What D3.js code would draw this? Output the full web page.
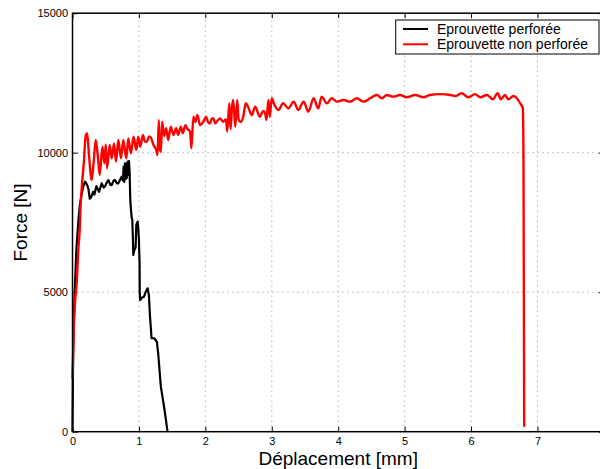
<!DOCTYPE html>
<html><head><meta charset="utf-8">
<script src="https://cdn.jsdelivr.net/npm/d3@7"></script>
<style>
body{margin:0;background:#fff;}
svg{display:block;font-family:"Liberation Sans",Arial,Helvetica,sans-serif;}
</style></head>
<body><svg id="c" width="600" height="469"></svg>
<script>
const xTicks=[0,1,2,3,4,5,6,7];
const yTicks=[0,5000,10000,15000];
const seriesNames=["Eprouvette perforée","Eprouvette non perforée"];
const seriesColors=["#000000","#ff0000"];
// Déplacement [mm], Force [N]
const perforeeX=[0,0.005,0.01,0.03,0.06,0.09,0.11,0.14,0.17,0.19,0.22,0.24,0.26,0.28,0.31,0.33,0.36,0.38,0.40,0.42,0.44,0.47,0.49,0.52,0.54,0.57,0.59,0.62,0.64,0.67,0.69,0.72,0.74,0.76,0.77,0.78,0.79,0.80,0.81,0.82,0.83,0.84,0.85,0.86,0.87,0.88,0.89,0.90,0.91,0.915,0.93,0.95,0.96,0.98,0.99,1.0,1.005,1.01,1.012,1.017,1.04,1.077,1.10,1.13,1.15,1.167,1.18,1.19,1.23,1.27,1.29,1.31,1.33,1.37,1.40,1.43];
const perforeeY=[0,1500,3000,4800,6600,7600,8100,8550,8850,8960,8850,8700,8350,8400,8600,8500,8800,8700,8600,8750,8900,8750,8800,8950,9020,8850,8840,9000,9020,8900,8900,9050,9140,9000,9500,8950,9620,9050,9600,9100,9680,9200,9700,9300,8300,7970,7700,7590,6900,6330,6500,6600,7410,7530,7300,6870,6400,6036,5018,4720,4800,4840,5000,5140,4900,4120,3700,3350,3350,3225,2810,2210,1613,1018,540,0];
const nonPerforeeX=[0,0.01,0.02,0.04,0.063,0.087,0.11,0.12,0.14,0.17,0.20,0.22,0.25,0.29,0.32,0.35,0.38,0.41,0.45,0.48,0.50,0.52,0.56,0.59,0.625,0.655,0.69,0.73,0.765,0.81,0.84,0.88,0.92,0.96,0.99,1.02,1.06,1.09,1.12,1.15,1.17,1.22,1.26,1.28,1.30,1.31,1.33,1.35,1.38,1.41,1.44,1.48,1.52,1.56,1.59,1.63,1.66,1.70,1.73,1.77,1.79,1.82,1.85,1.88,1.92,1.97,2.01,2.04,2.07,2.10,2.12,2.15,2.17,2.22,2.27,2.31,2.33,2.36,2.38,2.40,2.42,2.45,2.48,2.50,2.53,2.57,2.61,2.65,2.70,2.75,2.82,2.87,2.90,2.92,2.95,2.97,3.00,3.03,3.10,3.17,3.25,3.33,3.40,3.48,3.55,3.63,3.70,3.75,3.83,3.90,3.98,4.08,4.18,4.28,4.38,4.48,4.58,4.66,4.73,4.83,4.93,5.03,5.16,5.28,5.38,5.53,5.69,5.76,5.86,5.96,6.06,6.14,6.24,6.33,6.40,6.45,6.51,6.56,6.64,6.69,6.74,6.78,6.79,6.80];
const nonPerforeeY=[1900,2800,3760,4700,5320,6510,7300,8000,8780,9620,10630,10700,9860,9020,9700,10455,9900,9200,10215,9620,10300,9440,10275,9800,10335,9680,10455,9800,10455,9800,10515,9980,10575,10100,10575,10215,10635,10400,10395,10575,10575,10275,10100,9920,11170,10200,10035,11110,10600,10875,10455,10930,10635,10875,10635,10930,10700,10990,10850,10755,10160,11290,11100,11350,10990,11110,11290,11100,11050,11230,11230,11050,11110,11230,11110,11200,10755,11770,10850,11600,11890,10930,11890,11200,11100,11290,11770,11600,11350,11650,11290,11500,11410,11170,11890,11290,11950,11770,11530,11770,11590,11830,11530,11830,11470,11950,11590,12010,11770,11950,11830,11890,11830,11950,11830,11950,12070,11950,12070,12010,12070,11985,12070,11985,12070,12100,12070,12030,12130,11985,12100,11985,12070,11915,12130,11915,12070,11915,12030,11950,11770,11600,9380,180];

const svg=d3.select("#c");
const L=72.5,R=603.9,T=13.2,B=431.7;
const x=d3.scaleLinear().domain([0,8]).range([L,R]);
const y=d3.scaleLinear().domain([0,15000]).range([B,T]);

// grid
const g=svg.append("g");
g.selectAll(".gx").data(xTicks.filter(d=>d>0)).enter().append("line")
 .attr("x1",d=>x(d)).attr("x2",d=>x(d)).attr("y1",B).attr("y2",T)
 .attr("stroke","#8a8a8a").attr("stroke-width",1).attr("stroke-dasharray","1,4");
g.selectAll(".gy").data(yTicks.filter(d=>d>0&&d<15000)).enter().append("line")
 .attr("y1",d=>y(d)).attr("y2",d=>y(d)).attr("x1",L).attr("x2",R)
 .attr("stroke","#8a8a8a").attr("stroke-width",1).attr("stroke-dasharray","1,4");

// axes
const fmt=d3.format("d");
const ax=svg.append("g").attr("transform",`translate(0,${B})`)
 .call(d3.axisBottom(x).tickValues(xTicks).tickSizeInner(-5).tickSizeOuter(0).tickPadding(6).tickFormat(fmt));
const ay=svg.append("g").attr("transform",`translate(${L},0)`)
 .call(d3.axisLeft(y).tickValues(yTicks).tickSizeInner(-5).tickSizeOuter(0).tickPadding(4.5).tickFormat(fmt));
const at=svg.append("g").attr("transform",`translate(0,${T})`)
 .call(d3.axisTop(x).tickValues(xTicks).tickSizeInner(-5).tickSizeOuter(0).tickFormat(""));
const ar=svg.append("g").attr("transform",`translate(${R},0)`)
 .call(d3.axisRight(y).tickValues(yTicks).tickSizeInner(-5).tickSizeOuter(0).tickFormat(""));
[ax,ay,at,ar].forEach(a=>{
  a.select(".domain").remove();
  a.selectAll(".tick line").attr("stroke","#000").attr("stroke-width",1);
  a.selectAll("text").attr("font-size","11px").attr("fill","#000").attr("font-family","Liberation Sans, Arial, sans-serif");
});

// lines
const line=d3.line().x(d=>x(d[0])).y(d=>y(d[1]));
const smooth=d3.line().x(d=>x(d[0])).y(d=>y(d[1])).curve(d3.curveMonotoneX);
const s1=perforeeX.map((v,i)=>[v,perforeeY[i]]);
const s2=nonPerforeeX.map((v,i)=>[v,nonPerforeeY[i]]);
svg.append("path").datum(s1).attr("d",line).attr("fill","none").attr("stroke",seriesColors[0]).attr("stroke-width",2.2).attr("stroke-linejoin","round");
svg.append("path").datum(s2).attr("d",smooth).attr("fill","none").attr("stroke",seriesColors[1]).attr("stroke-width",2.4).attr("stroke-linejoin","round");

// frame
svg.append("rect").attr("x",L).attr("y",T).attr("width",R-L).attr("height",B-T)
 .attr("fill","none").attr("stroke","#000").attr("stroke-width",1.5);

// axis labels
svg.append("text").attr("x",(L+R)/2).attr("y",465).attr("text-anchor","middle")
 .attr("font-size","19px").text("Déplacement [mm]");
svg.append("text").attr("transform",`translate(27,${(T+B)/2}) rotate(-90)`).attr("text-anchor","middle")
 .attr("font-size","19px").text("Force [N]");

// legend
const lg=svg.append("g");
lg.append("rect").attr("x",395.7).attr("y",20).attr("width",203.3).attr("height",34)
 .attr("fill","#fff").attr("stroke","#000").attr("stroke-width",1);
seriesNames.forEach((n,i)=>{
  const yy=29+i*15.3;
  lg.append("line").attr("x1",403).attr("x2",428).attr("y1",yy).attr("y2",yy)
    .attr("stroke",seriesColors[i]).attr("stroke-width",2);
  lg.append("text").attr("x",437).attr("y",yy+5).attr("font-size","14px").text(n);
});
</script></body></html>
